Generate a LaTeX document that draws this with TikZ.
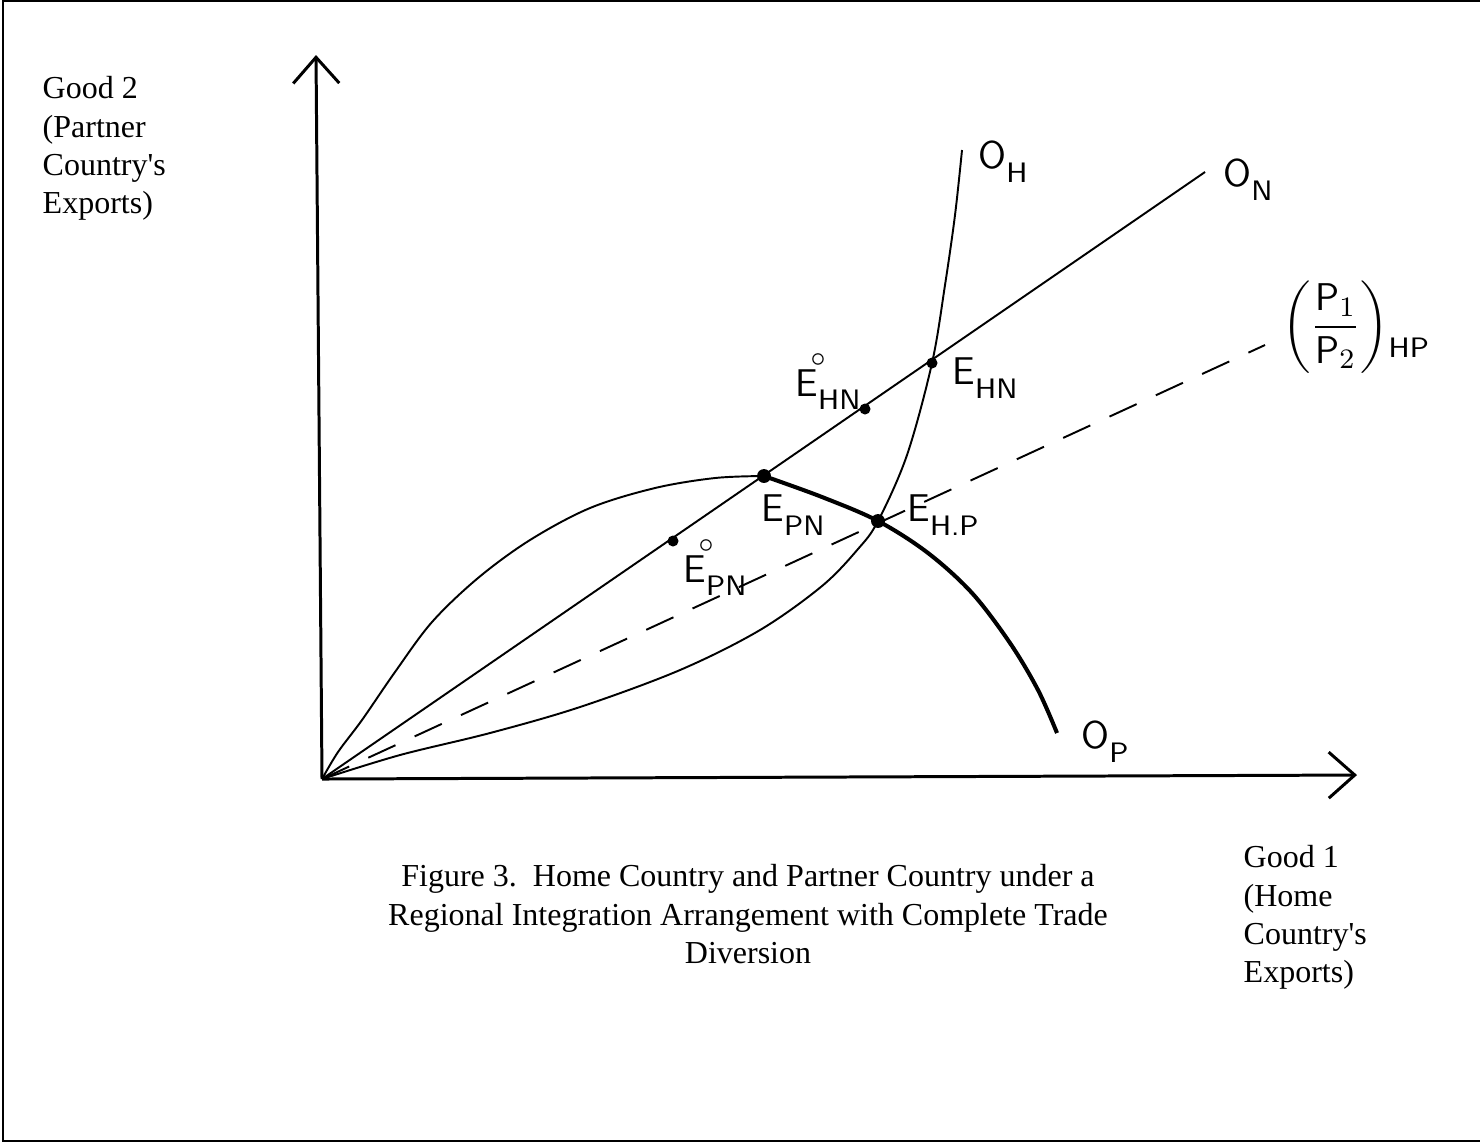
\documentclass[tikz,border=0pt]{standalone}
\usepackage{fontspec}
\setmainfont{Liberation Serif}
\usepackage{amsmath}
\usetikzlibrary{arrows.meta}
\newcommand{\sublab}[2]{#1\raisebox{-0.8ex}{\footnotesize #2}}
\newcommand{\sublabo}[2]{#1\makebox[0pt]{\raisebox{1.7ex}{\footnotesize$\circ$}}\raisebox{-0.8ex}{\footnotesize #2}}
\tikzset{
axis/.style={line width=0.85pt,-{Straight Barb[length=2.6mm,width=4.6mm,line width=0.85pt]}},
curve/.style={line width=0.55pt},
thickcurve/.style={line width=1.15pt},
dot/.style={shape=circle, draw=black, fill=black, inner sep=0pt, minimum size=0.95mm},
bigdot/.style={dot, minimum size=1.25mm},
lbl/.style={font=\sffamily\fontsize{11}{13}\selectfont, inner sep=0pt},
txt/.style={font=\fontsize{9.1}{10.9}\selectfont, inner sep=0pt, align=left}}

\begin{document}
\begin{tikzpicture}[x=0.01cm, y=-0.01cm]

                        \useasboundingbox (0,0) rectangle (1480,1144);
                        \draw[line width=0.7pt] (1480,1) -- (3,1) -- (3,1141) -- (1480,1141);

                        % points
                        \coordinate (O) at (322,779);
                        \coordinate (ytop) at (316,55);
                        \coordinate (xend) at (1357,775);
                        \coordinate (ON) at (1205,172);
                        \coordinate (HP) at (1265,345);
                        \coordinate (Ehp) at (878,521);
                        \coordinate (Epn) at (764,476);
                        \coordinate (Ehn) at (932,363);
                        \coordinate (Ehn0) at (865,409);
                        \coordinate (Epn0) at (673,541);

                        % axes
                        \draw[axis] (O) -- (ytop);
                        \draw[axis] (O) -- (xend);

                        % price lines
                        \draw[curve] (O) -- (ON);
                        \draw[curve, dash pattern=on 8.5pt off 6pt] (O) -- (HP);

                        % offer curve of H
                        \draw[curve] plot[smooth, tension=0.55] coordinates {(O) (400,755) (490,733) (580,707) (680,670) (760,630) (822,586) (858,549) (Ehp) (907,455) (Ehn) (945,285) (955,215) (962,150)};

                        % offer curve of P
                        \draw[curve] plot[smooth, tension=0.55] coordinates {(O) (338,752) (362,720) (395,672) (432,622) (478,578) (530,540) (590,508) (655,488) (715,478) (Epn)};
                        \draw[thickcurve] plot[smooth, tension=0.55] coordinates {(Epn) (822,497) (Ehp) (928,553) (972,593) (1010,643) (1038,690) (1057,733)};

                        \node[dot] (A) at (Epn0) {};
                        \node[bigdot] (B) at (Epn) {};
                        \node[dot] (C) at (Ehn0) {};
                        \node[dot] (D) at (Ehn) {};
                        \node[bigdot] (E) at (Ehp) {};

                        % labels
                        \node[lbl] (oh) at (1003,162) {\sublab{O}{H}};
                        \node[lbl] (on) at (1248,180) {\sublab{O}{N}};
                        \node[lbl] (op) at (1105,742) {\sublab{O}{P}};
                        \node[lbl] (ehn) at (985,378) {\sublab{E}{HN}};
                        \node[lbl] (ehn0) at (828,382) {\sublabo{E}{HN}};
                        \node[lbl] (epn) at (793,515) {\sublab{E}{PN}};
                        \node[lbl] (epn0) at (715,568) {\sublabo{E}{PN}};
                        \node[lbl] (ehp) at (943,515) {\sublab{E}{H.P}};
                        \node[lbl, anchor=west] (hp) at (1282,327) {$\left(\dfrac{\mathsf{P}_1}{\mathsf{P}_2}\right)$\raisebox{-1.2ex}{\footnotesize HP}};

                        \node[txt, anchor=north west] (good2) at (42,76) {Good 2\\(Partner\\Country\textquotesingle s\\Exports)};
                        \node[txt, anchor=north west] (good1) at (1243,845) {Good 1\\(Home\\Country\textquotesingle s\\Exports)};
                        \node[txt, align=center, anchor=north] (cap) at (748,864) {Figure 3.\ \ Home Country and Partner Country under a\\Regional Integration Arrangement with Complete Trade\\Diversion};

                    \end{tikzpicture}
\end{document}
